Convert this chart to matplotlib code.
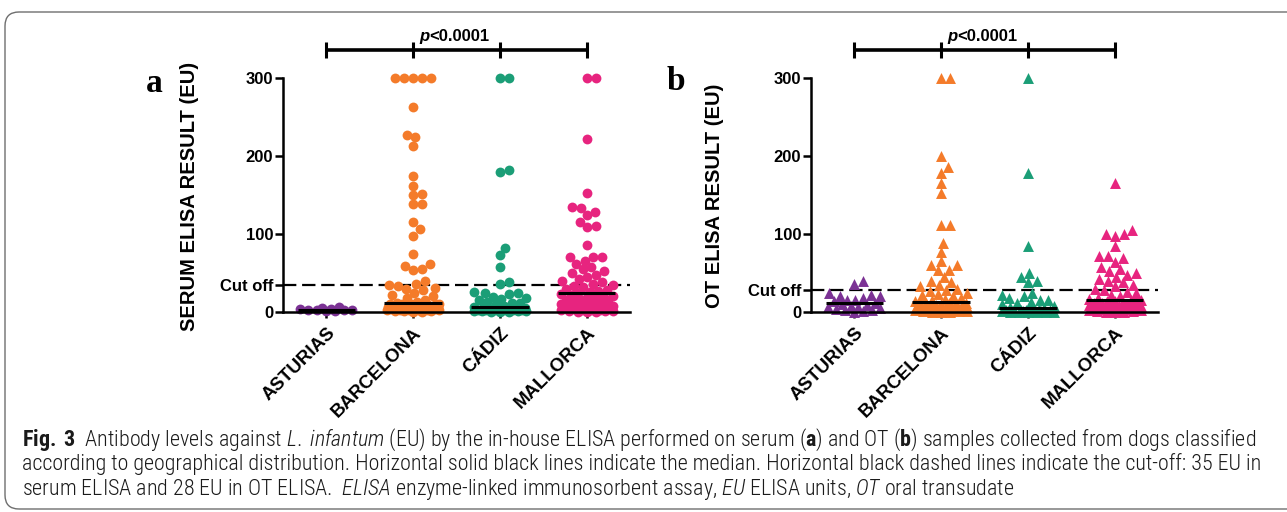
import numpy as np
import matplotlib
matplotlib.use("Agg")
import matplotlib.pyplot as plt
from matplotlib import font_manager as fm
from matplotlib.patches import FancyBboxPatch
from matplotlib.transforms import IdentityTransform

# ---------------------------------------------------------------- data
categories = ["ASTURIAS", "BARCELONA", "CÁDIZ", "MALLORCA"]
group_colors = ["#7b3294", "#f47b2a", "#1b9e77", "#e7247f"]

serum_cutoff = 35
ot_cutoff = 28
y_ticks = [0, 100, 200, 300]

# Serum ELISA (EU)
serum_asturias = [1, 2, 2, 3, 3, 4, 4, 5, 6, 1]
serum_barcelona = [300, 300, 300, 300, 300, 263, 227, 224, 213, 175, 162, 151, 150,
                   139, 138, 115, 106, 98, 75, 61, 59, 55, 54,
                   40, 36, 35, 33, 31, 30, 28, 25, 22, 20, 18, 15, 13, 12,
                   0, 0, 1, 1, 1, 2, 2, 2, 3, 3, 3, 4, 4, 4, 5, 5, 5, 5, 6, 6,
                   6, 7, 7, 7, 8, 8, 8, 8, 9, 9, 9, 10, 10, 10, 10, 10, 10]
serum_cadiz = [300, 300, 182, 180, 82, 73, 58,
               38, 36, 26, 25, 24, 23, 19, 18, 17, 16, 13, 12, 11, 10, 8, 7,
               0, 0, 0, 1, 1, 1, 1, 2, 2, 2, 2, 3, 3, 3, 3, 4, 4, 4, 4, 5, 5, 5]
serum_mallorca = [300, 300, 222, 153, 135, 133, 128, 124, 116, 110, 109, 86,
                  71, 71, 70, 66, 62, 58, 55, 52, 50, 47, 45, 42, 40, 38, 36,
                  35, 33, 32, 30, 28, 27, 26,
                  24, 23, 22, 21, 20, 19, 18, 17, 16, 15, 14, 13, 12, 11, 10, 9,
                  8, 8, 7, 6, 5, 5, 4, 4, 3, 3, 2, 2, 1, 1, 1, 0, 0, 0]

# Oral transudate ELISA (EU)
ot_asturias = [40, 36, 24, 22, 21, 20, 18, 16, 15, 14, 12,
               10, 9, 8, 7, 6, 5, 4, 3, 2, 1, 0]
ot_barcelona = [300, 300, 200, 186, 178, 166, 153, 111, 111, 88, 77, 65, 60, 60,
                54, 54, 45, 40,
                38, 35, 33, 30, 28, 27, 25, 23, 22, 20, 18, 17, 16, 14,
                12, 12, 11, 11, 10, 10, 9, 9, 8, 8, 7, 7, 6, 6, 5, 5, 5, 4,
                4, 4, 3, 3, 3, 2, 2, 2, 1, 1, 1, 0, 0, 0]
ot_cadiz = [300, 178, 85, 50, 45, 40, 38,
            25, 22, 20, 18, 16, 15, 13, 12, 10, 8, 6, 5,
            3.5, 3, 3, 3, 2, 2, 2, 2, 1, 1, 1, 1, 0, 0, 0, 0, 0, 0]
ot_mallorca = [166, 105, 100, 100, 98, 85, 72, 72, 69, 64, 58, 55, 52, 50, 48,
               45, 42, 40, 38, 35, 33, 30, 28, 26, 24, 22, 20, 18, 17, 16,
               15, 14, 14, 13, 12, 12, 11, 10, 10, 9, 9, 8, 8, 7, 7, 6, 6, 5,
               5, 4, 4, 3, 3, 2, 2, 1, 1, 0, 0, 0]

serum_groups = [serum_asturias, serum_barcelona, serum_cadiz, serum_mallorca]
ot_groups = [ot_asturias, ot_barcelona, ot_cadiz, ot_mallorca]

# ---------------------------------------------------------------- fonts
LABEL_FONT = ["Liberation Sans", "DejaVu Sans"]
LETTER_FONT = ["Liberation Serif", "DejaVu Serif"]
available = {f.name for f in fm.fontManager.ttflist}
caption_font = next((f for f in ["Liberation Sans Narrow", "Roboto Condensed",
                                 "Open Sans Condensed", "DejaVu Sans Condensed",
                                 "Liberation Sans"] if f in available), "DejaVu Sans")
plt.rcParams["font.family"] = LABEL_FONT
plt.rcParams["mathtext.fontset"] = "custom"
plt.rcParams["mathtext.rm"] = caption_font + ":light"
plt.rcParams["mathtext.it"] = caption_font + ":italic:light"
plt.rcParams["mathtext.bf"] = caption_font + ":bold"

W, H = 1287, 512
fig = plt.figure(figsize=(W / 100, H / 100), dpi=100)
fig.patch.set_facecolor("white")

# rounded frame around the figure block
frame = FancyBboxPatch((5, 3), 1330, 497, boxstyle="round,pad=0,rounding_size=14",
                       transform=IdentityTransform(), facecolor="none",
                       edgecolor="#6e6e6e", linewidth=1.0)
fig.patches.append(frame)


def swarm_offsets(values, ppu_y, diam, half):
    """Horizontal pixel offsets that keep markers from overlapping."""
    v = np.asarray(values, float)
    y = v * ppu_y
    steps = np.arange(0, half + 1e-9, 0.5)
    cands = np.empty(2 * len(steps) - 1)
    cands[0] = 0
    cands[1::2] = steps[1:]
    cands[2::2] = -steps[1:]
    px = np.zeros(len(v))
    placed = []
    for i in np.argsort(v, kind="stable"):
        if placed:
            idx = np.array(placed)
            dy = y[idx] - y[i]
            close = np.abs(dy) < diam
            if close.any():
                d = np.sqrt((cands[:, None] - px[idx][close][None, :]) ** 2
                            + dy[close][None, :] ** 2).min(axis=1)
                ok = np.nonzero(d >= diam)[0]
                px[i] = cands[ok[0]] if len(ok) else cands[np.argmax(d)]
        placed.append(i)
    return px


def draw_panel(left_px, groups, marker, msize, cutoff, ylabel, ylabel_x, letter, letter_xy):
    ax = fig.add_axes([left_px / W, 200 / H, 347 / W, 234 / H])
    ax.set_xlim(-0.5, 3.5)
    ax.set_ylim(0, 300)
    p0 = ax.transData.transform((0, 0))
    p1 = ax.transData.transform((1, 1))
    ppx, ppy = p1[0] - p0[0], p1[1] - p0[1]

    for i, (vals, col) in enumerate(zip(groups, group_colors)):
        off = swarm_offsets(vals, ppy, 8.8, 26)
        ax.scatter(i + off / ppx, vals, s=msize, marker=marker, color=col,
                   linewidths=0, clip_on=False, zorder=2)
        med = np.median(vals)
        ax.hlines(med, i - 0.33, i + 0.33, color="black", lw=2.2, zorder=3)

    ax.axhline(cutoff, color="black", lw=1.6, ls=(0, (6, 2.6)), zorder=1)

    for s in ("top", "right"):
        ax.spines[s].set_visible(False)
    for s in ("left", "bottom"):
        ax.spines[s].set_linewidth(1.8)

    ax.set_yticks([y_ticks[0], cutoff] + y_ticks[1:])
    ax.set_yticklabels([str(y_ticks[0]), "Cut off"] + [str(t) for t in y_ticks[1:]])
    ax.tick_params(axis="y", direction="out", length=6, width=1.8, pad=1,
                   labelsize=12)
    ax.set_xticks(range(len(categories)))
    ax.set_xticklabels(categories)
    ax.tick_params(axis="x", direction="out", length=4, width=1.8, pad=5,
                   labelsize=13.4)
    for lbl in ax.get_xticklabels() + ax.get_yticklabels():
        lbl.set_fontweight("bold")
    for lbl in ax.get_xticklabels():
        lbl.set_rotation(45)
        lbl.set_rotation_mode("anchor")
        lbl.set_ha("right")
        lbl.set_va("top")

    # significance bracket across the four groups
    yb = 336
    ax.plot([0, len(categories) - 1], [yb, yb], color="black", lw=2.6,
            clip_on=False, solid_capstyle="butt")
    ax.vlines(range(len(categories)), yb - 10.5, yb + 10.5, color="black",
              lw=2.2, clip_on=False)
    ax.text(1.19, 353, "p", fontsize=12, fontweight="bold", fontstyle="italic",
            ha="right", va="center", clip_on=False)
    ax.text(1.19, 353, "<0.0001", fontsize=12, fontweight="bold",
            ha="left", va="center", clip_on=False)

    fig.text(ylabel_x / W, 1 - 196 / H, ylabel, rotation=90, fontsize=14.5,
             fontweight="bold", ha="center", va="center")
    fig.text(letter_xy[0] / W, 1 - letter_xy[1] / H, letter, fontsize=24,
             fontweight="bold", family=LETTER_FONT, ha="center", va="center")
    return ax


draw_panel(283, serum_groups, "o", 50, serum_cutoff,
           "SERUM ELISA RESULT (EU)", 190, "a", (154, 84))
draw_panel(811, ot_groups, "^", 62, ot_cutoff,
           "OT ELISA RESULT (EU)", 714, "b", (676, 82))

# ---------------------------------------------------------------- caption
caption_lines = [
    r"$\mathbf{Fig.}$ $\mathbf{3}$  Antibody levels against $\mathit{L.}$ $\mathit{infantum}$ (EU) by the in-house "
    r"ELISA performed on serum ($\mathbf{a}$) and OT ($\mathbf{b}$) samples collected from dogs classified",
    r"according to geographical distribution. Horizontal solid black lines indicate the median. "
    r"Horizontal black dashed lines indicate the cut-off: 35 EU in",
    r"serum ELISA and 28 EU in OT ELISA.  $\mathit{ELISA}$ enzyme-linked immunosorbent assay, "
    r"$\mathit{EU}$ ELISA units, $\mathit{OT}$ oral transudate",
]
caption_y = [440, 464, 489]

renderer = fig.canvas.get_renderer()
probe = fig.text(0, 0, caption_lines[0], fontsize=12, family=caption_font,
                 fontweight="light")
width_12 = probe.get_window_extent(renderer).width
probe.remove()
cap_size = 12 * 1233 / width_12

for line, yy in zip(caption_lines, caption_y):
    fig.text(22 / W, 1 - yy / H, line, fontsize=cap_size, family=caption_font,
             fontweight="light", ha="left", va="center", color="#1a1a1a")

fig.savefig("out.png", dpi=100, facecolor="white")
